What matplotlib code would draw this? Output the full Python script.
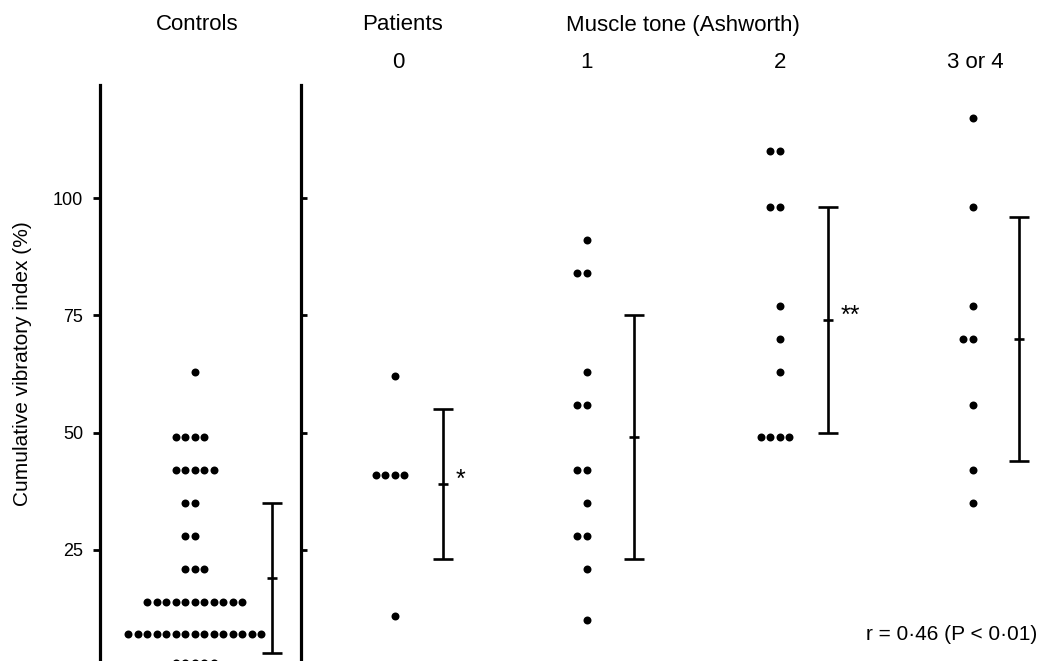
import matplotlib.pyplot as plt
from collections import Counter

plt.rcParams['font.family'] = ['Liberation Sans', 'DejaVu Sans']

# cumulative vibratory index (%) per subject
controls = [63] + [49]*4 + [42]*5 + [35]*2 + [28]*2 + [21]*3 + [14]*11 + [7]*15 + [1]*5
tone_0 = [62, 41, 41, 41, 41, 11]
tone_1 = [91, 84, 84, 63, 56, 56, 42, 42, 35, 28, 28, 21, 10]
tone_2 = [110, 110, 98, 98, 77, 70, 63, 49, 49, 49, 49]
tone_34 = [117, 98, 77, 70, 70, 56, 42, 35]
groups = [controls, tone_0, tone_1, tone_2, tone_34]
group_labels = ['Controls', '0', '1', '2', '3 or 4']

# mean and spread bars
bar_mean = [19, 39, 49, 74, 70]
bar_low = [3, 23, 23, 50, 44]
bar_high = [35, 55, 75, 98, 96]
bar_marks = ['', '*', '', '**', '']

y_ticks = [25, 50, 75, 100]

# layout (pixels)
W, H = 1056, 661
dot_x = [195, 395, 587, 780, 973]
bar_x = [272, 443, 634, 828, 1019]
label_x = [197, 398, 587, 780, 975]
spacing = 9.5
ylim = (1.34, 124.1)


def fx(x):
    return x / W


def fy(y):
    return 1 - y / H


fig = plt.figure(figsize=(W / 100, H / 100), dpi=100)
ax = fig.add_axes([fx(100), 0, 1 - fx(100), (H - 85) / H])
ax.set_xlim(100, W)
ax.set_ylim(*ylim)

for c, vals in zip(dot_x, groups):
    for v, n in Counter(vals).items():
        xs = [c + (i - n // 2) * spacing for i in range(n)]
        ax.scatter(xs, [v] * n, s=33, color='black', linewidths=0, clip_on=False)

for x, m, lo, hi, mark in zip(bar_x, bar_mean, bar_low, bar_high, bar_marks):
    ax.errorbar([x], [m], yerr=[[m - lo], [hi - m]], fmt='_', color='black',
                markersize=7, markeredgewidth=1.9, elinewidth=1.9,
                capsize=7.5, capthick=1.9)
    if mark:
        ax.text(x + 13, m + 1, mark, fontsize=18, ha='left', va='center')

for s in ['top', 'right', 'bottom']:
    ax.spines[s].set_visible(False)
ax.spines['left'].set_linewidth(2.3)
ax.set_xticks([])
ax.set_yticks(y_ticks)
ax.tick_params(axis='y', direction='out', length=5, width=2, labelsize=13, pad=7)

# divider between controls and patients
div = fig.add_axes([fx(301), 0, 0.01, (H - 85) / H])
div.set_ylim(*ylim)
div.patch.set_alpha(0)
for s in ['top', 'right', 'bottom']:
    div.spines[s].set_visible(False)
div.spines['left'].set_linewidth(2.3)
div.set_xticks([])
div.set_yticks(y_ticks)
div.tick_params(axis='y', direction='in', length=4, width=2, labelleft=False)

# headers
fig.text(fx(label_x[0]), fy(25), group_labels[0], fontsize=16, ha='center', va='center')
fig.text(fx(402), fy(25), 'Patients', fontsize=16, ha='center', va='center')
fig.text(fx(683), fy(25), 'Muscle tone (Ashworth)', fontsize=16, ha='center', va='center')
for x, lab in zip(label_x[1:], group_labels[1:]):
    fig.text(fx(x), fy(62), lab, fontsize=16, ha='center', va='center')

fig.text(fx(23), fy(364), 'Cumulative vibratory index (%)', fontsize=15,
         rotation=90, ha='center', va='center')
fig.text(fx(1037), fy(634), 'r = 0·46 (P < 0·01)', fontsize=15, ha='right', va='center')

fig.savefig('out.png', dpi=100)
